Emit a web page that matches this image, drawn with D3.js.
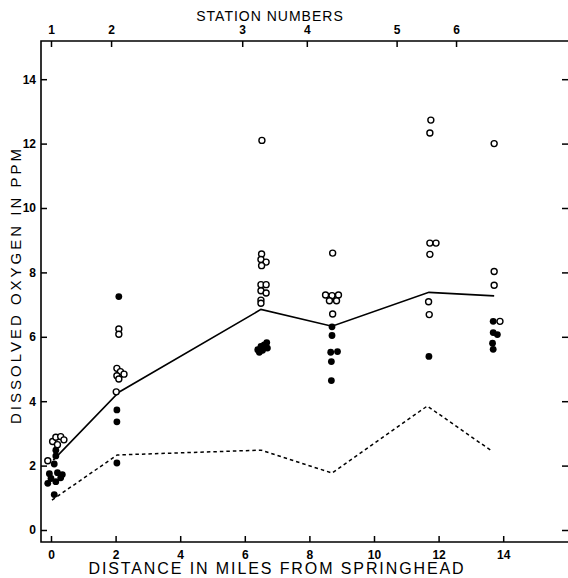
<meta charset="utf-8">
<title>Dissolved Oxygen</title>
<body style="margin:0;background:#fff">
<script src="https://cdn.jsdelivr.net/npm/d3@7"></script>
<script>

var width = 568;
var height = 578;

// station positions on the top scale (miles) and their labels
var stationMiles = [0, 1.86, 5.92, 7.92, 10.7, 12.54];
var stationLabels = ['1', '2', '3', '4', '5', '6'];

// solid line (upper) and dashed line (lower)
var solidMiles = [0.07, 2.1, 6.5, 8.7, 11.7, 13.72];
var solidPpm   = [2.17, 4.28, 6.85, 6.33, 7.38, 7.27];
var dashedMiles = [0.03, 2.05, 6.5, 8.7, 11.65, 13.65];
var dashedPpm   = [0.93, 2.33, 2.48, 1.77, 3.85, 2.45];

// open circles [miles, ppm]
var openPts = [
  [0.05,2.75],[0.15,2.88],[0.3,2.9],[0.4,2.8],[0.2,2.65],[-0.1,2.15],
  [2.1,6.24],[2.1,6.08],[2.04,5.02],[2.15,4.92],[2.26,4.84],[2.04,4.79],[2.1,4.69],[2.02,4.29],
  [6.53,12.1],[6.52,8.57],[6.5,8.4],[6.66,8.32],[6.52,8.21],[6.5,7.62],[6.66,7.62],[6.5,7.43],[6.66,7.36],[6.5,7.14],[6.5,7.04],
  [8.72,8.6],[8.5,7.3],[8.7,7.28],[8.9,7.3],[8.62,7.12],[8.84,7.12],[8.72,6.71],
  [11.76,12.73],[11.73,12.33],[11.73,8.91],[11.92,8.91],[11.73,8.56],[11.69,7.09],[11.71,6.69],
  [13.72,12.0],[13.72,8.03],[13.72,7.6],[13.9,6.48]
];

// filled dots [miles, ppm]
var filledPts = [
  [0.15,2.48],[0.15,2.3],[0.1,2.05],[-0.05,1.75],[0.2,1.78],[0.35,1.72],[0.0,1.6],[0.3,1.62],[-0.1,1.45],[0.15,1.5],[0.1,1.1],
  [2.1,7.25],[2.04,3.73],[2.04,3.36],[2.04,2.08],
  [6.4,5.6],[6.5,5.7],[6.6,5.75],[6.68,5.82],[6.45,5.52],[6.55,5.58],[6.7,5.65],
  [8.7,6.31],[8.7,6.04],[8.66,5.52],[8.87,5.54],[8.68,5.23],[8.68,4.64],
  [11.7,5.39],
  [13.69,6.48],[13.69,6.13],[13.82,6.07],[13.67,5.8],[13.69,5.61]
];

var xTicks = [0, 2, 4, 6, 8, 10, 12, 14];
var yTicks = [0, 2, 4, 6, 8, 10, 12, 14];

var frame = { left: 41, right: 568, top: 41, bottom: 542 };

var x = d3.scaleLinear().domain([0, 16]).range([51, 567.8]);
var y = d3.scaleLinear().domain([0, 14]).range([530, 79.2]);

var svg = d3.select('body').append('svg')
    .attr('width', width)
    .attr('height', height)
    .style('display', 'block')
    .style('font-family', '"Liberation Sans", Arial, sans-serif');

// frame
svg.append('path')
    .attr('d', 'M' + frame.right + ',' + frame.top + 'H' + frame.left + 'V' + frame.bottom + 'H' + frame.right)
    .attr('fill', 'none')
    .attr('stroke', '#000')
    .attr('stroke-width', 1.6);

var gLeft = svg.append('g')
    .attr('transform', 'translate(' + frame.left + ',0)')
    .call(d3.axisLeft(y).tickValues(yTicks).tickSize(-6).tickPadding(5).tickSizeOuter(0));

var gRight = svg.append('g')
    .attr('transform', 'translate(' + frame.right + ',0)')
    .call(d3.axisRight(y).tickValues(yTicks).tickSize(-6).tickFormat('').tickSizeOuter(0));

var gBottom = svg.append('g')
    .attr('transform', 'translate(0,' + frame.bottom + ')')
    .call(d3.axisBottom(x).tickValues(xTicks).tickSize(-6).tickPadding(8).tickSizeOuter(0));

var gTop = svg.append('g')
    .attr('transform', 'translate(0,' + frame.top + ')')
    .call(d3.axisTop(x).tickValues(stationMiles).tickSize(-6).tickPadding(7).tickSizeOuter(0)
      .tickFormat(function(d, i) { return stationLabels[i]; }));

[gLeft, gRight, gBottom, gTop].forEach(function(g) {
  g.select('.domain').remove();
  g.selectAll('.tick line').attr('stroke', '#000').attr('stroke-width', 1.5);
  g.selectAll('.tick text')
    .attr('fill', '#000')
    .style('font-size', '12px')
    .style('font-weight', 'bold');
});

// axis titles
svg.append('text')
    .attr('x', 270).attr('y', 21)
    .attr('text-anchor', 'middle')
    .style('font-size', '14px')
    .style('letter-spacing', '1px')
    .text('STATION NUMBERS');

svg.append('text')
    .attr('x', 277).attr('y', 574)
    .attr('text-anchor', 'middle')
    .style('font-size', '16px')
    .style('letter-spacing', '1.9px')
    .text('DISTANCE IN MILES FROM SPRINGHEAD');

svg.append('text')
    .attr('transform', 'translate(21,285) rotate(-90)')
    .attr('text-anchor', 'middle')
    .style('font-size', '15px')
    .style('letter-spacing', '3px')
    .text('DISSOLVED OXYGEN IN PPM');

// lines
var line = d3.line()
    .x(function(d) { return x(d[0]); })
    .y(function(d) { return y(d[1]); });

svg.append('path')
    .datum(solidMiles.map(function(m, i) { return [m, solidPpm[i]]; }))
    .attr('d', line)
    .attr('fill', 'none')
    .attr('stroke', '#000')
    .attr('stroke-width', 1.6);

svg.append('path')
    .datum(dashedMiles.map(function(m, i) { return [m, dashedPpm[i]]; }))
    .attr('d', line)
    .attr('fill', 'none')
    .attr('stroke', '#000')
    .attr('stroke-width', 1.5)
    .attr('stroke-dasharray', '3.5,3');

// points
svg.append('g').selectAll('circle')
    .data(filledPts)
    .enter().append('circle')
    .attr('cx', function(d) { return x(d[0]); })
    .attr('cy', function(d) { return y(d[1]); })
    .attr('r', 3.4)
    .attr('fill', '#000');

svg.append('g').selectAll('circle')
    .data(openPts)
    .enter().append('circle')
    .attr('cx', function(d) { return x(d[0]); })
    .attr('cy', function(d) { return y(d[1]); })
    .attr('r', 3)
    .attr('fill', '#fff')
    .attr('stroke', '#000')
    .attr('stroke-width', 1.4);

</script>
